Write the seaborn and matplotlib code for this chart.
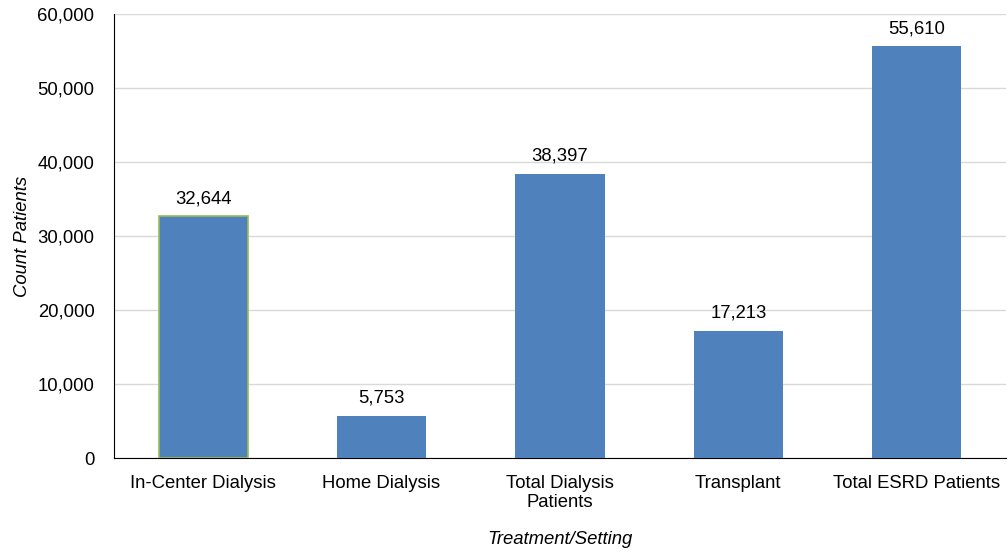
import numpy as np
import pandas as pd
import matplotlib
matplotlib.use("Agg")
import matplotlib.pyplot as plt
import seaborn as sns

# data
categories = ["In-Center Dialysis", "Home Dialysis", "Total Dialysis\nPatients",
              "Transplant", "Total ESRD Patients"]
patients = [32644, 5753, 38397, 17213, 55610]

df = pd.DataFrame({"Treatment": categories, "Patients": patients})

sns.set_style("white")
plt.rcParams["font.family"] = ["Liberation Sans", "DejaVu Sans"]
plt.rcParams["text.color"] = "black"
plt.rcParams["axes.labelcolor"] = "black"
plt.rcParams["xtick.color"] = "black"
plt.rcParams["ytick.color"] = "black"

fs = 13.3

fig = plt.figure(figsize=(10.08, 5.52), dpi=100)
ax = fig.add_axes([0.113, 0.170, 0.885, 0.805])

sns.barplot(data=df, x="Treatment", y="Patients", color="#4F81BD",
            saturation=1, width=0.5, ax=ax, zorder=3, edgecolor="none", linewidth=0)

# first bar has a thin green outline in the original
ax.patches[0].set_edgecolor("#9BBB59")
ax.patches[0].set_linewidth(1.2)

for i, v in enumerate(patients):
    ax.text(i, v + 1200, f"{v:,}", ha="center", va="bottom", fontsize=fs, color="black")

ax.set_ylim(0, 60000)
ax.set_yticks(range(0, 60001, 10000))
ax.set_yticklabels([f"{t:,}" for t in range(0, 60001, 10000)], fontsize=fs)
ax.tick_params(axis="x", labelsize=fs, length=0, pad=12)
ax.tick_params(axis="y", length=0, pad=14)
ax.yaxis.grid(True, color="#D9D9D9", linewidth=1, zorder=0)
ax.set_axisbelow(True)

for s in ["top", "right"]:
    ax.spines[s].set_visible(False)
ax.spines["left"].set_color("black")
ax.spines["bottom"].set_color("black")

ax.set_xlabel("Treatment/Setting", fontsize=fs, style="italic", labelpad=14)
ax.set_ylabel("Count Patients", fontsize=fs, style="italic", labelpad=5)

fig.savefig("out.png", dpi=100)
